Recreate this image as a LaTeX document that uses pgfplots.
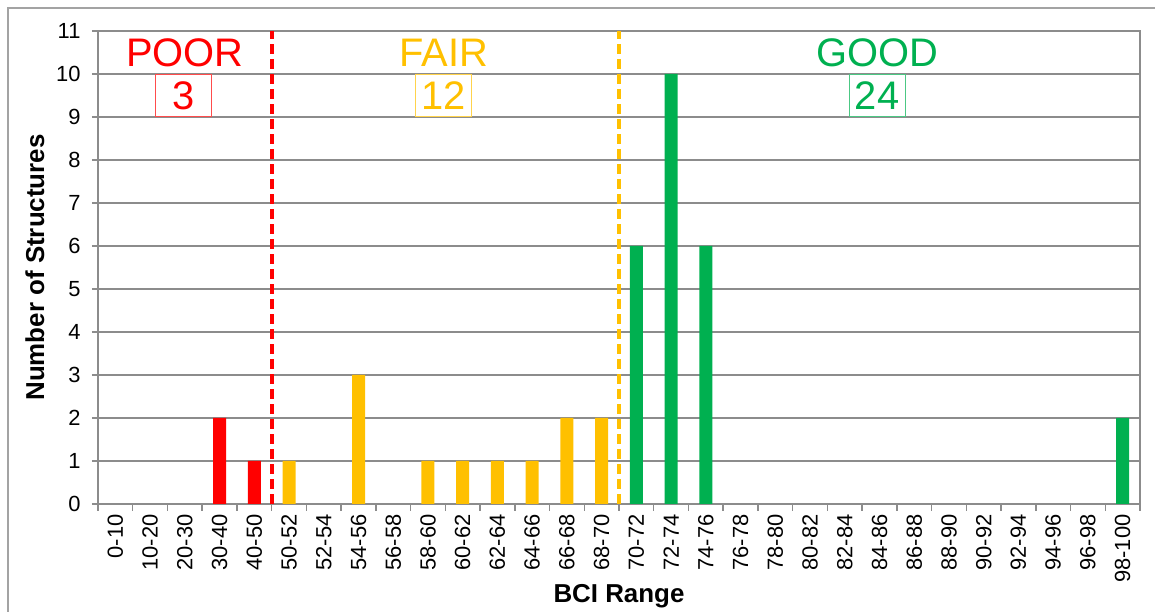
\documentclass[border=0pt]{standalone}
\usepackage{fontspec}
\setmainfont{Liberation Sans}
\usepackage{pgfplots}
\pgfplotsset{compat=1.18}
\definecolor{cpoor}{HTML}{FF0000}
\definecolor{cfair}{HTML}{FFC000}
\definecolor{cgood}{HTML}{00B050}
\definecolor{cgrid}{HTML}{8C8C8C}
\begin{document}
\begin{tikzpicture}
\useasboundingbox (0,0) rectangle (1155bp,612bp);
\draw[cgrid!80, line width=1.5bp] (8bp,0) -- (8bp,604bp) -- (1155bp,604bp);
\begin{axis}[
 at={(98bp,108bp)}, anchor=south west,
 scale only axis, width=1042bp, height=473bp,
 xmin=-0.5, xmax=29.5, ymin=0, ymax=11,
 xtick={0,...,29},
 xticklabels={0-10,10-20,20-30,30-40,40-50,50-52,52-54,54-56,56-58,58-60,60-62,62-64,64-66,66-68,68-70,70-72,72-74,74-76,76-78,78-80,80-82,82-84,84-86,86-88,88-90,90-92,92-94,94-96,96-98,98-100},
 minor xtick={-0.5,0.5,...,29.5},
 ytick={0,...,11},
 tick align=outside, tick pos=left,
 major tick length=6bp, minor tick length=7bp,
 major x tick style={draw=none},
 minor x tick style={cgrid, line width=1.5bp},
 major y tick style={cgrid, line width=1.5bp},
 ymajorgrids, major grid style={cgrid, line width=1.5bp},
 axis line style={cgrid, line width=1.5bp},
 ticklabel style={font=\fontsize{22}{26}\selectfont, text=black},
 xticklabel style={yshift=-1bp, rotate=90, anchor=east},
 yticklabel style={xshift=-8bp},
 /pgf/number format/assume math mode=true,
 xlabel={BCI Range}, ylabel={Number of Structures},
 label style={font=\bfseries\fontsize{26}{30}\selectfont},
 xlabel style={at={(axis description cs:0.5,-0.1945)}, anchor=center},
 ylabel style={at={(axis description cs:-0.0605,0.5)}, anchor=center},
]
\addplot[ybar, bar width=13bp, bar shift=0pt, fill=cpoor, draw=none] coordinates {(3,2)(4,1)};
\addplot[ybar, bar width=13bp, bar shift=0pt, fill=cfair, draw=none] coordinates {(5,1)(7,3)(9,1)(10,1)(11,1)(12,1)(13,2)(14,2)};
\addplot[ybar, bar width=13bp, bar shift=0pt, fill=cgood, draw=none] coordinates {(15,6)(16,10)(17,6)(29,2)};
\draw[cpoor, line width=4bp, dash pattern=on 10bp off 5bp] (axis cs:4.5,0) -- (axis cs:4.5,11);
\draw[cfair, line width=4bp, dash pattern=on 10bp off 5bp] (axis cs:14.5,0) -- (axis cs:14.5,11);
\node[text=cpoor, font=\fontsize{40}{48}\selectfont] at (axis cs:2.0,10.5) {POOR};
\node[text=cfair, font=\fontsize{40}{48}\selectfont] at (axis cs:9.45,10.5) {FAIR};
\node[text=cgood, font=\fontsize{40}{48}\selectfont] at (axis cs:21.93,10.5) {GOOD};
\node[text=cpoor, draw=cpoor!70, line width=1bp, minimum width=56bp, minimum height=42bp, inner sep=0pt, font=\fontsize{40}{48}\selectfont] at (axis cs:1.95,9.5) {3};
\node[text=cfair, draw=cfair!70, line width=1bp, minimum width=56bp, minimum height=42bp, inner sep=0pt, font=\fontsize{40}{48}\selectfont] at (axis cs:9.45,9.5) {12};
\node[text=cgood, draw=cgood!70, line width=1bp, minimum width=56bp, minimum height=42bp, inner sep=0pt, font=\fontsize{40}{48}\selectfont] at (axis cs:21.93,9.5) {24};
\end{axis}
\end{tikzpicture}
\end{document}
